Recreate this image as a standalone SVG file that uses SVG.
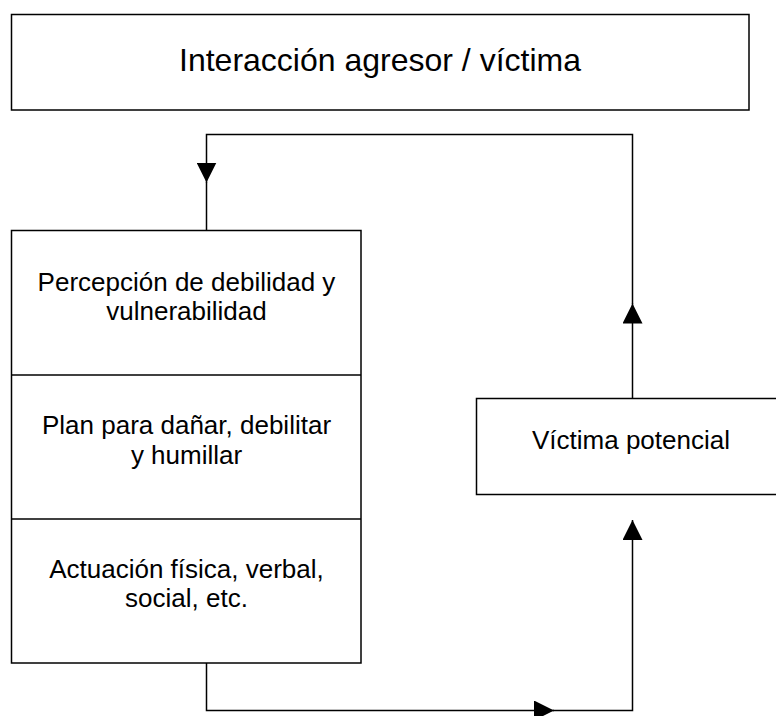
<svg xmlns="http://www.w3.org/2000/svg" width="776" height="716" viewBox="0 0 776 716">
<style>
.box{fill:#fff;stroke:#000;stroke-width:1.5}
.ln{fill:none;stroke:#000;stroke-width:1.5}
text{font-family:"Liberation Sans",Arial,sans-serif;fill:#000;text-anchor:middle}
.t26{font-size:26px}
.t32{font-size:32px}
</style>
<defs>
<marker id="arr" markerUnits="userSpaceOnUse" markerWidth="20" markerHeight="20" refX="20" refY="10" orient="auto" viewBox="0 0 20 20">
<path d="M0,0 L20,10 L0,20 z" fill="#000"/>
</marker>
</defs>
<rect width="776" height="716" fill="#fff"/>
<g id="connectors">
<path class="ln" d="M632.5,398 V303.5" marker-end="url(#arr)"/>
<path class="ln" d="M632.5,304 V134.5 H206.5 V182.5" marker-end="url(#arr)"/>
<path class="ln" d="M206.5,182 V230.5"/>
<path class="ln" d="M206.5,663 V710.5 H554" marker-end="url(#arr)"/>
<path class="ln" d="M553,710.5 H632.5 V520" marker-end="url(#arr)"/>
</g>
<g id="title">
<rect class="box" x="11.5" y="14.5" width="737.5" height="95.5"/>
<text class="t32" x="380" y="71">Interacción agresor / víctima</text>
</g>
<g id="agresor">
<rect class="box" x="11.5" y="230.5" width="349.5" height="432.5"/>
<line class="ln" x1="11.5" y1="375" x2="361" y2="375"/>
<line class="ln" x1="11.5" y1="519" x2="361" y2="519"/>
</g>
<g id="percepcion">
<text class="t26" x="186.5" y="291">Percepción de debilidad y</text>
<text class="t26" x="186.5" y="320">vulnerabilidad</text>
</g>
<g id="plan">
<text class="t26" x="186.5" y="433.5">Plan para dañar, debilitar</text>
<text class="t26" x="186.5" y="463.5">y humillar</text>
</g>
<g id="actuacion">
<text class="t26" x="186.5" y="577.5">Actuación física, verbal,</text>
<text class="t26" x="186.5" y="607">social, etc.</text>
</g>
<g id="victima">
<rect class="box" x="476.5" y="398.5" width="311" height="96"/>
<text class="t26" x="631" y="449">Víctima potencial</text>
</g>
</svg>
